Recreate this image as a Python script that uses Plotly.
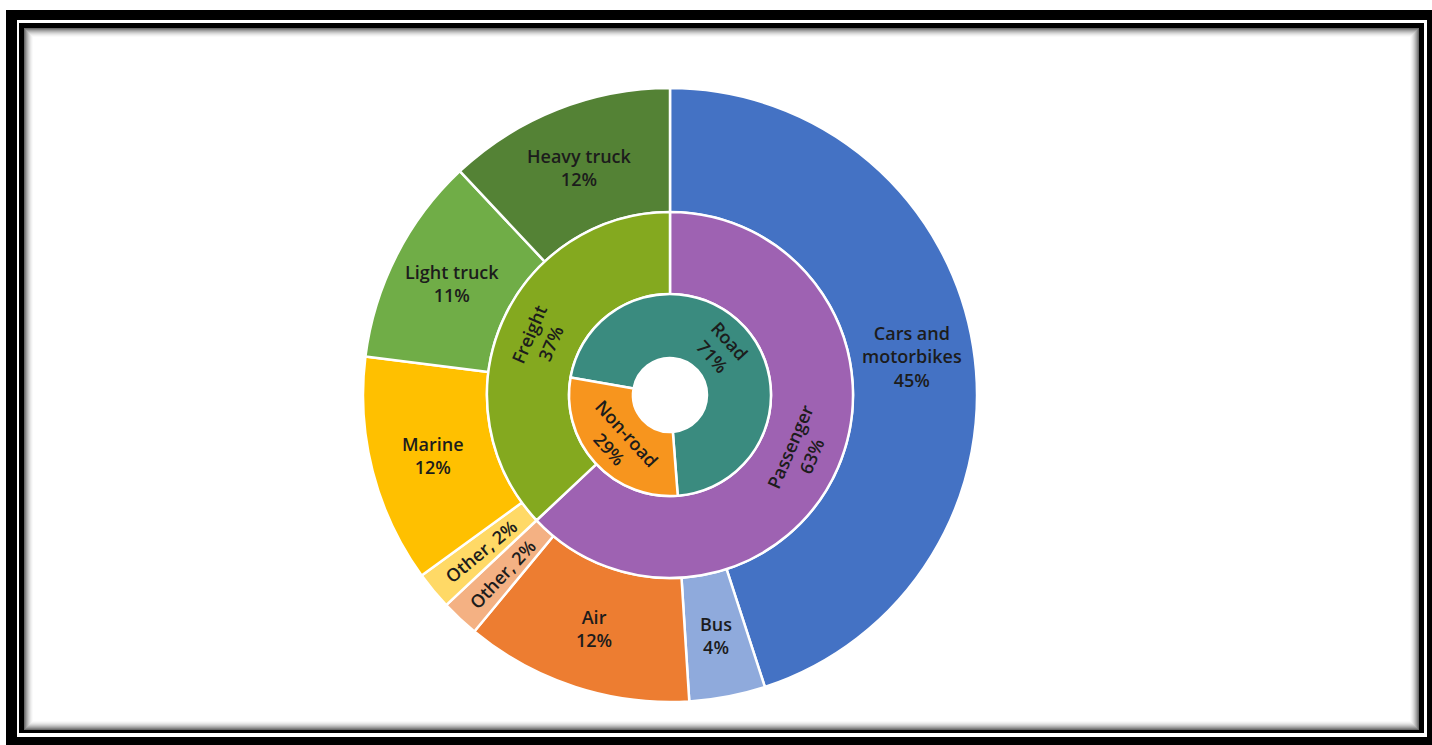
import math
import plotly.graph_objects as go

# Innermost ring: road vs non-road
mode_labels = ["Road", "Non-road"]
mode_values = [71, 29]
mode_colors = ["#3A8B7F", "#F7951E"]

# Middle ring: passenger vs freight
use_labels = ["Passenger", "Freight"]
use_values = [63, 37]
use_colors = ["#9E62B2", "#84A91F"]

# Outer ring: individual segments
seg_labels = ["Cars and motorbikes", "Bus", "Air", "Other", "Other",
              "Marine", "Light truck", "Heavy truck"]
seg_values = [45, 4, 12, 2, 2, 12, 11, 12]
seg_colors = ["#4472C4", "#8FAADC", "#ED7D31", "#F4B183", "#FFD966",
              "#FFC000", "#70AD47", "#548235"]

W, H = 1432, 745
CX, CY = 670, 395
R_OUT, R_MID, R_IN, R_HOLE = 307, 183, 101, 37
ROT_INNER = -80

TEXT_COLOR = "#1c1c1c"
FONT = dict(family="Open Sans", size=18, color=TEXT_COLOR, weight=600)


def domain(r):
    return dict(x=[(CX - r) / W, (CX + r) / W],
                y=[1 - (CY + r) / H, 1 - (CY - r) / H])


def wrap(name):
    return name.replace("Cars and ", "Cars and<br>")


def ring(labels, values, colors, r_outer, r_inner, rotation):
    return go.Pie(
        labels=[f"{l} {i}" for i, l in enumerate(labels)], values=values,
        marker=dict(colors=colors, line=dict(color="white", width=2.5)),
        domain=domain(r_outer), hole=r_inner / r_outer,
        sort=False, direction="clockwise", rotation=rotation,
        textinfo="none", hoverinfo="skip", showlegend=False,
    )


def upright(a):
    a = a % 360
    if 90 < a <= 270:
        a -= 180
    elif a > 270:
        a -= 360
    return a


def ring_labels(labels, values, r_outer, r_inner, rotation, orient, fmt):
    """Place one label per slice at the middle of its arc."""
    total = sum(values)
    r = (r_outer + r_inner) / 2
    start = rotation
    out = []
    for lab, v in zip(labels, values):
        mid = start + v / total * 360 / 2
        start += v / total * 360
        th = math.radians(mid)
        o = orient(lab) if callable(orient) else orient
        if o == "tangential":
            angle = upright(mid)
        elif o == "radial":
            angle = upright(mid - 90)
        else:
            angle = 0
        out.append(dict(
            x=(CX + r * math.sin(th)) / W, y=1 - (CY - r * math.cos(th)) / H,
            xref="paper", yref="paper", showarrow=False,
            text=fmt(lab, v), textangle=angle, font=FONT,
            xanchor="center", yanchor="middle",
        ))
    return out


fig = go.Figure()
fig.add_trace(ring(seg_labels, seg_values, seg_colors, R_OUT, R_MID, 0))
fig.add_trace(ring(use_labels, use_values, use_colors, R_MID, R_IN, 0))
fig.add_trace(ring(mode_labels, mode_values, mode_colors, R_IN, R_HOLE,
                   ROT_INNER))

annotations = []
annotations += ring_labels(
    seg_labels, seg_values, R_OUT, R_MID, 0,
    lambda lab: "radial" if lab == "Other" else "horizontal",
    lambda lab, v: f"{lab}, {v}%" if lab == "Other" else f"{wrap(lab)}<br>{v}%",
)
annotations += ring_labels(
    use_labels, use_values, R_MID, R_IN, 0, "tangential",
    lambda lab, v: f"{lab}<br>{v}%",
)
annotations += ring_labels(
    mode_labels, mode_values, R_IN, R_HOLE, ROT_INNER, "tangential",
    lambda lab, v: f"{lab}<br>{v}%",
)


# Picture frame: double black border with an inset shadow
def rect(x0, y0, x1, y1, color):
    return dict(type="rect", xref="paper", yref="paper", layer="below",
                x0=x0 / W, x1=x1 / W, y0=1 - y1 / H, y1=1 - y0 / H,
                fillcolor=color, line=dict(width=0))


shapes = [
    rect(6, 10, W, H, "#000000"),
    rect(17, 20, 1427, 737, "#ffffff"),
    rect(19, 23, 1424, 733, "#000000"),
]
shadow = ["#6a6a6a", "#858585", "#9e9e9e", "#b4b4b4", "#c8c8c8",
          "#d9d9d9", "#e7e7e7", "#f2f2f2", "#fafafa", "#ffffff"]
for k, c in enumerate(shadow):
    shapes.append(rect(24 + k, 28 + k, 1419 - k, 730 - k, c))

fig.update_layout(
    width=W, height=H, margin=dict(l=0, r=0, t=0, b=0),
    paper_bgcolor="white", plot_bgcolor="white",
    shapes=shapes, annotations=annotations, showlegend=False,
)

fig.write_html("out.html")
